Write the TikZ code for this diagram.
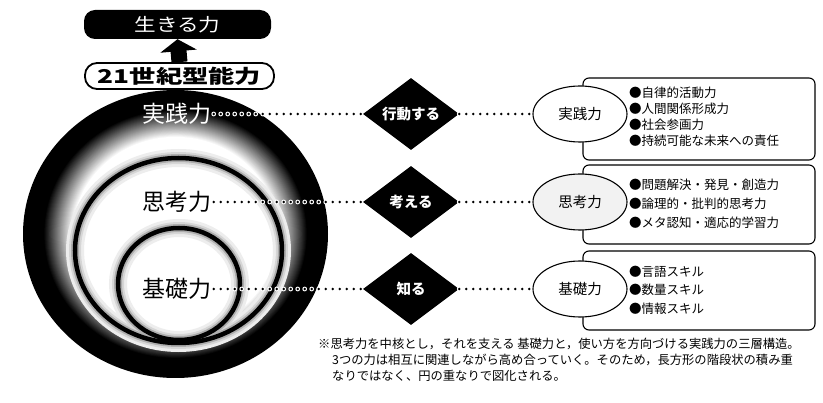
\documentclass[tikz,border=0pt]{standalone}
\usepackage{fontspec}
\setmainfont{Noto Sans CJK JP}
\usetikzlibrary{shapes.geometric,arrows.meta}
\tikzset{
  ikibox/.style={rounded corners=11pt, fill=black, text=white, minimum width=187pt, minimum height=29pt, inner sep=0pt, font=\fontsize{18}{18}\selectfont},
  centbox/.style={rounded corners=12pt, draw, line width=1.8pt, fill=white, minimum width=189pt, minimum height=26pt, inner sep=0pt, font=\fontsize{19}{19}\selectfont\bfseries},
  ringlabel/.style={font=\fontsize{23}{23}\selectfont, inner sep=2pt},
  dia/.style={diamond, aspect=1.33, fill=black, text=white, minimum width=96pt, minimum height=72pt, inner sep=0pt, font=\fontsize{14.5}{14.5}\selectfont\bfseries},
  oval/.style={ellipse, draw, line width=1.1pt, fill=white, minimum width=94pt, minimum height=56pt, inner sep=0pt, font=\fontsize{14.5}{14.5}\selectfont},
  listbox/.style={draw, line width=1.1pt, rounded corners=6pt, minimum width=232pt, inner sep=0pt},
  listtext/.style={anchor=west, align=left, inner sep=0pt, font=\fontsize{12.5}{17}\selectfont},
  notetext/.style={anchor=west, inner sep=0pt, font=\fontsize{12.3}{12.3}\selectfont},
  dotline/.style={line width=2.8pt, line cap=round, dash pattern=on 0pt off 7pt,
    preaction={draw=white, line width=4.8pt, line cap=round, dash pattern=on 0pt off 7pt}},
}
\begin{document}
\begin{tikzpicture}[x=1pt,y=-1pt]
\useasboundingbox (0,0) rectangle (823,403);
\fill[white] (0,0) rectangle (823,403);

% outer disc: black rim fading to white inside
\fill[black] (175.5,234) ellipse [x radius=152.5pt, y radius=144pt];
\foreach \i in {1,...,30} {
  \pgfmathsetmacro\f{0.86-0.0064*(\i-1)}
  \pgfmathsetmacro\rx{\f*152.5}
  \pgfmathsetmacro\ry{\f*144}
  \pgfmathsetmacro\c{100-3.33*\i}
  \fill[black!\c] (175.5,234) ellipse [x radius=\rx pt, y radius=\ry pt];
}

% inner rings with soft halo
\foreach \w/\c in {18/7, 12/16, 8/32} {
  \draw[line width=\w pt, black!\c] (178.5,250.5) ellipse [x radius=103.5pt, y radius=92.5pt];
  \draw[line width=\w pt, black!\c] (179,284) ellipse [x radius=61pt, y radius=56pt];
}
\draw[line width=4.5pt] (178.5,250.5) ellipse [x radius=103.5pt, y radius=92.5pt];
\draw[line width=4.5pt] (179,284) ellipse [x radius=61pt, y radius=56pt];

% top boxes and arrow
\node[ikibox] (iki) at (177.5,24.5) {\scalebox{1.2}[1]{生きる力}};
\node[centbox] (c21) at (179.5,76) {\scalebox{1.38}[1]{21世紀型能力}};
\draw[line width=16pt, -{Triangle[width=36pt,length=12pt]}] (c21.north) -- (iki.south);

% ring labels
\node[ringlabel, text=white] (lp) at (177,114) {実践力};
\node[ringlabel] (lt) at (177,202) {思考力};
\node[ringlabel] (lk) at (177,289) {基礎力};

% list boxes
\node[listbox, minimum height=82pt] (r1) at (699,119) {};
\node[listbox, minimum height=79pt] (r2) at (699,204.5) {};
\node[listbox, minimum height=79pt] (r3) at (699,290.5) {};

\node[listtext, font=\fontsize{12.5}{16}\selectfont] (t1) at (629,117) {●自律的活動力\\●人間関係形成力\\●社会参画力\\●持続可能な未来への責任};
\node[listtext, font=\fontsize{12.5}{19}\selectfont] (t2) at (629,204) {●問題解決・発見・創造力\\●論理的・批判的思考力\\●メタ認知・適応的学習力};
\node[listtext, font=\fontsize{12.5}{18.5}\selectfont] (t3) at (629,290) {●言語スキル\\●数量スキル\\●情報スキル};

% diamonds
\node[dia] (d1) at (411,114) {行動する};
\node[dia] (d2) at (411,202) {考える};
\node[dia] (d3) at (411,289) {知る};

% ovals
\node[oval] (e1) at (580,114) {実践力};
\node[oval, fill=black!5] (e2) at (580,202) {思考力};
\node[oval] (e3) at (580,289) {基礎力};

% connectors
\draw[dotline] (lp.east) -- (d1.west);
\draw[dotline] (lt.east) -- (d2.west);
\draw[dotline] (lk.east) -- (d3.west);
\draw[dotline] (d1.east) -- (e1.west);
\draw[dotline] (d2.east) -- (e2.west);
\draw[dotline] (d3.east) -- (e3.west);

% note
\node[notetext] (n1) at (318,344) {※思考力を中核とし，それを支える 基礎力と，使い方を方向づける実践力の三層構造。};
\node[notetext] (n2) at (332,360) {3つの力は相互に関連しながら高め合っていく。そのため，長方形の階段状の積み重};
\node[notetext] (n3) at (332,376) {なりではなく、円の重なりで図化される。};
\end{tikzpicture}
\end{document}
